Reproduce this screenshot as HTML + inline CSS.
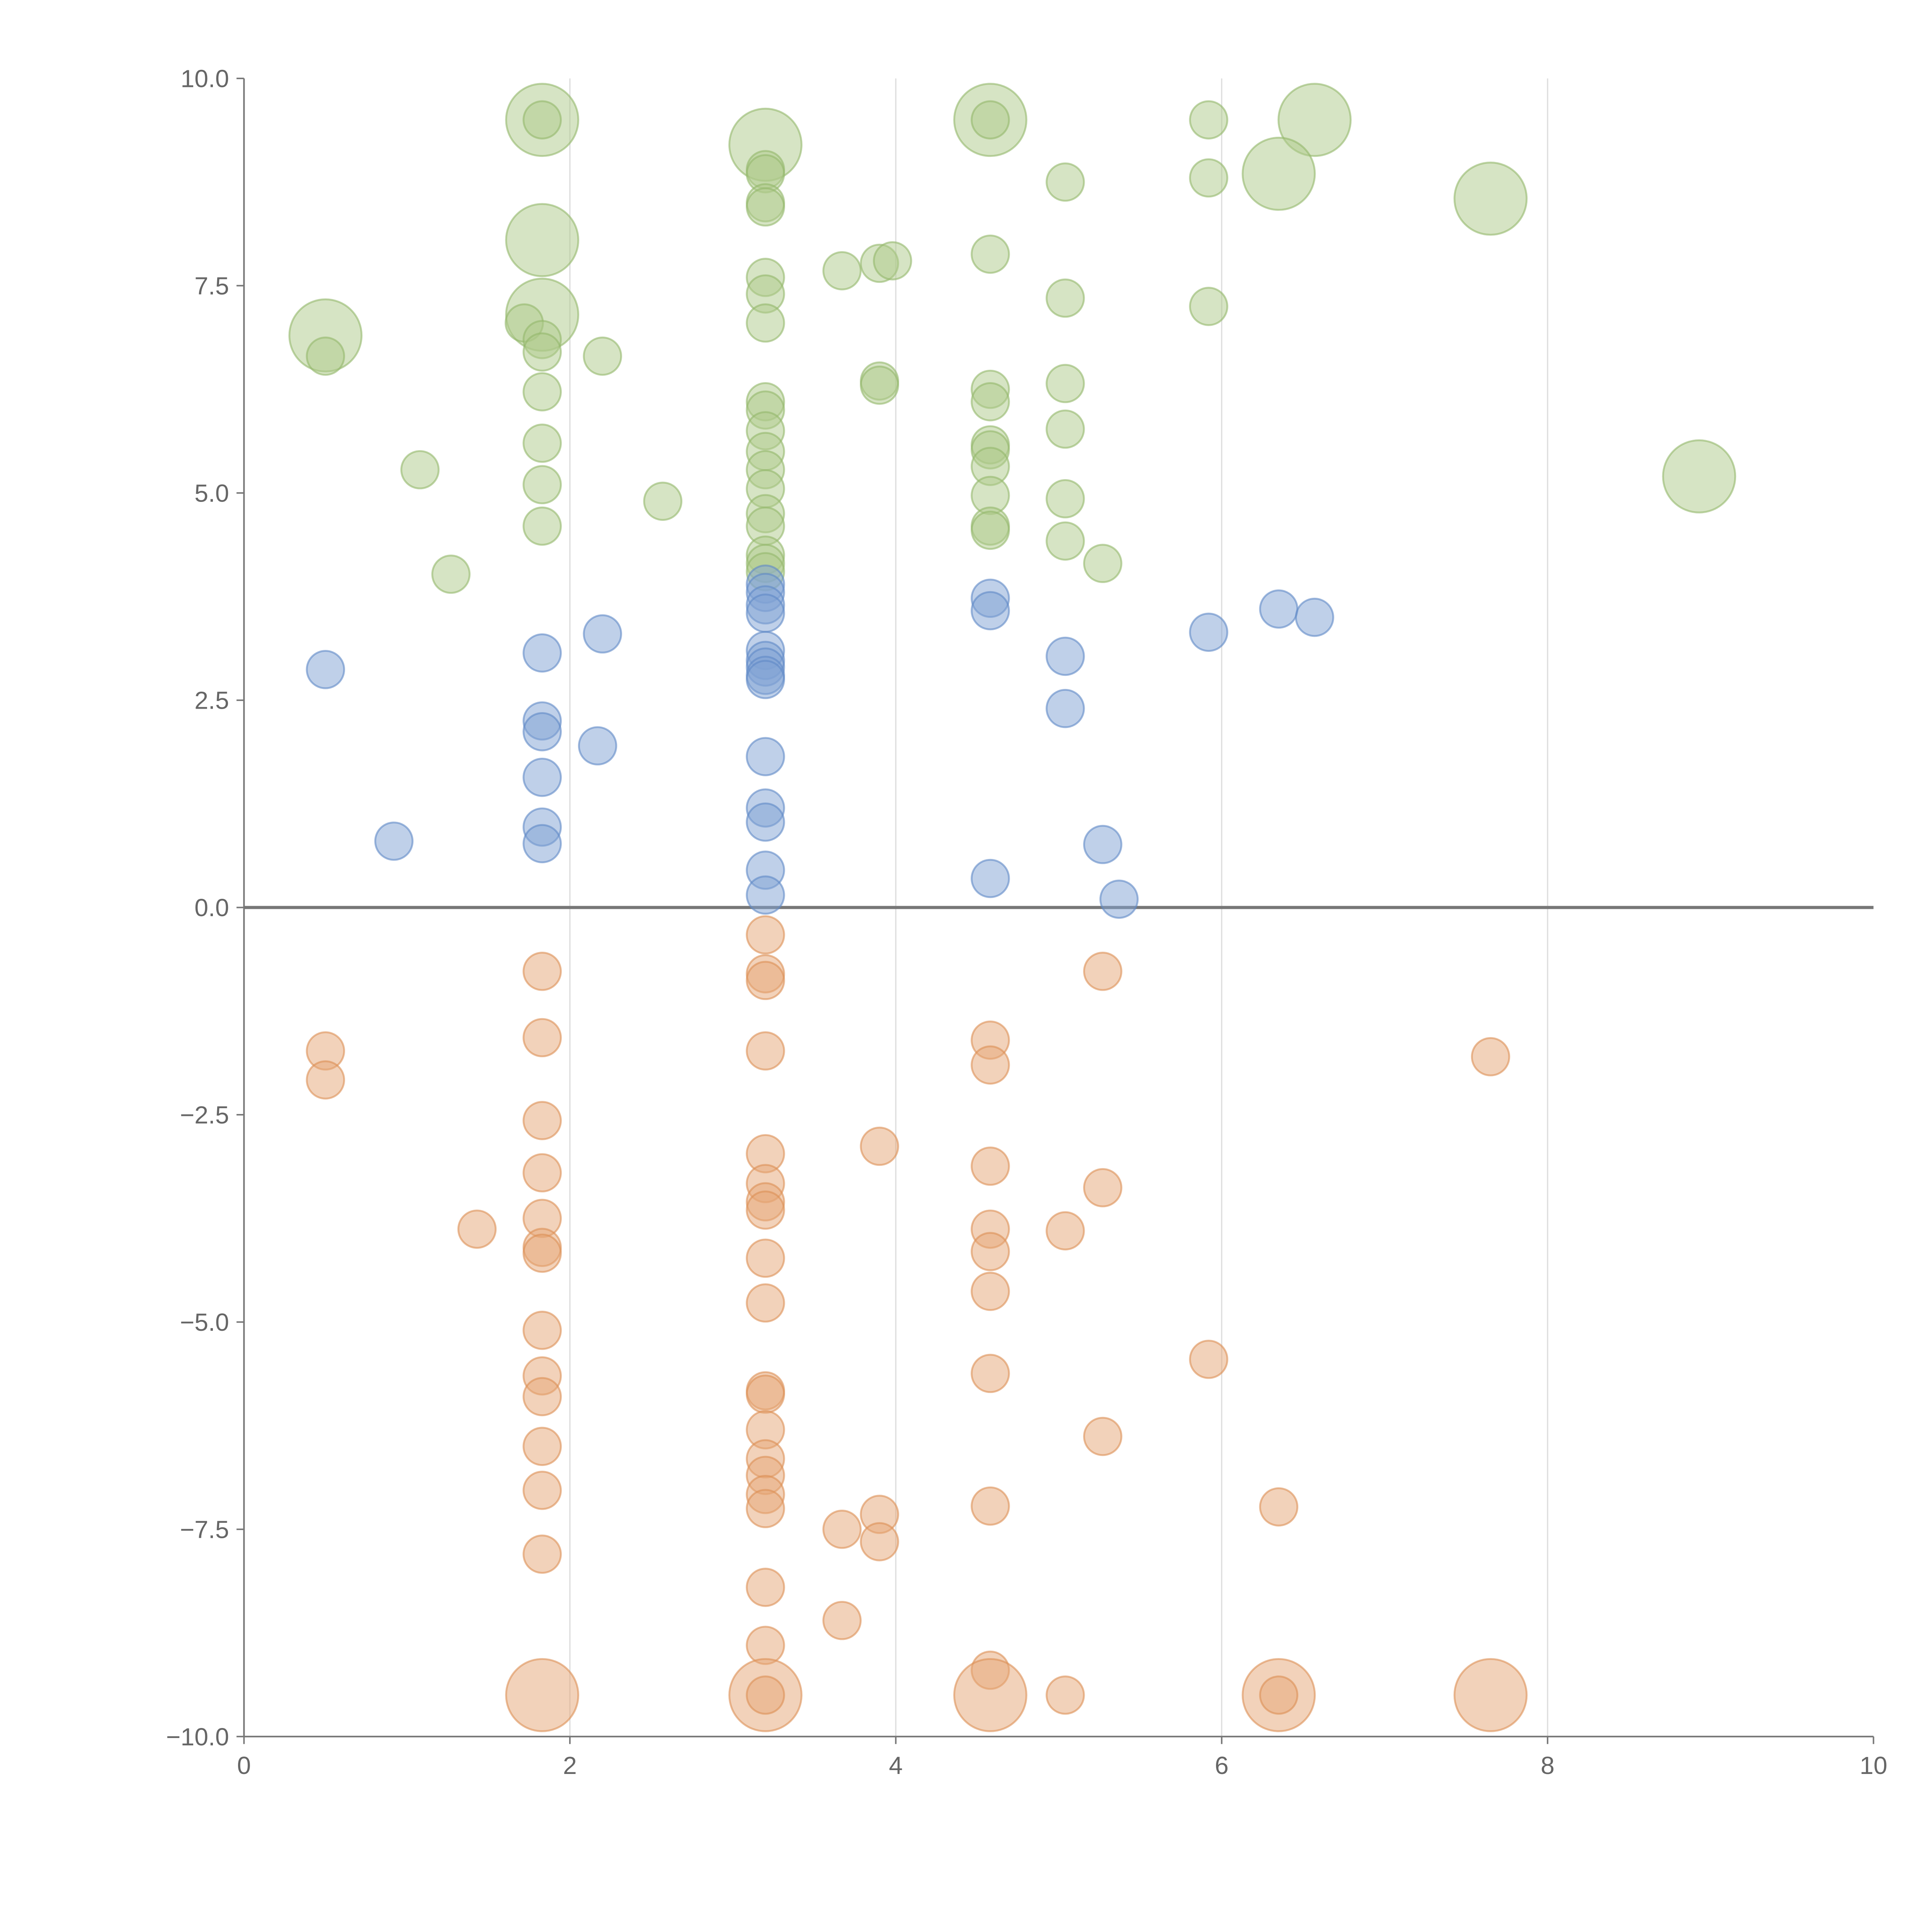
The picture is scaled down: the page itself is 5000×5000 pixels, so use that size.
<!DOCTYPE html>
<html><head><meta charset="utf-8"><style>html,body{margin:0;padding:0;background:#fff}svg{display:block}</style></head>
<body>
<svg id="chart" xmlns="http://www.w3.org/2000/svg" width="5000" height="5000" viewBox="0 0 1552 1552" font-family="'Liberation Sans', sans-serif">
<g id="grid"></g>
<g id="axes"></g>
<g id="points"></g>
</svg>
<script>
const xTicks=[0,2,4,6,8,10];
const yTicks=[10,7.5,5,2.5,0,-2.5,-5,-7.5,-10];
const yTickLabels=["10.0","7.5","5.0","2.5","0.0","\u22122.5","\u22125.0","\u22127.5","\u221210.0"];
const greenX=[1.83,1.83,3.2,4.58,4.58,5.92,6.57,6.35,5.92,5.04,7.65,1.83,3.2,3.2,3.2,3.2,4.58,3.67,3.9,3.98,3.2,3.2,5.04,5.92,1.83,0.5,1.72,1.83,1.83,0.5,2.2,3.2,3.9,3.9,5.04,4.58,4.58,1.83,3.2,3.2,3.2,5.04,1.83,4.58,4.58,3.2,4.58,3.2,1.08,8.93,1.83,3.2,4.58,5.04,2.57,3.2,1.83,3.2,4.58,4.58,5.04,3.2,3.2,5.27,3.2,1.27];
const greenY=[9.5,9.5,9.2,9.5,9.5,9.5,9.5,8.85,8.8,8.75,8.55,8.05,8.9,8.85,8.5,8.45,7.88,7.68,7.77,7.8,7.6,7.4,7.35,7.25,7.15,6.9,7.05,6.85,6.7,6.65,6.65,7.05,6.35,6.3,6.32,6.25,6.1,6.22,6.1,6.0,5.75,5.77,5.6,5.58,5.52,5.5,5.32,5.28,5.28,5.2,5.1,5.05,4.97,4.93,4.9,4.75,4.6,4.6,4.6,4.55,4.42,4.25,4.15,4.15,4.05,4.02];
const greenBig=[1,0,1,1,0,0,1,1,0,0,1,1,0,0,0,0,0,0,0,0,0,0,0,0,1,1,0,0,0,0,0,0,0,0,0,0,0,0,0,0,0,0,0,0,0,0,0,0,0,1,0,0,0,0,0,0,0,0,0,0,0,0,0,0,0,0];
const blueX=[3.2,3.2,4.58,3.2,6.35,4.58,3.2,6.57,5.92,2.2,3.2,1.83,5.04,3.2,3.2,0.5,3.2,3.2,5.04,1.83,1.83,2.17,3.2,1.83,3.2,3.2,1.83,0.92,1.83,5.27,3.2,4.58,3.2,5.37];
const blueY=[3.9,3.8,3.73,3.65,3.6,3.58,3.55,3.5,3.32,3.3,3.1,3.07,3.03,2.98,2.9,2.87,2.8,2.75,2.4,2.25,2.12,1.95,1.82,1.57,1.2,1.03,0.97,0.8,0.77,0.76,0.45,0.35,0.15,0.1];
const orangeX=[3.2,1.83,5.27,3.2,3.2,1.83,4.58,0.5,3.2,7.65,4.58,0.5,1.83,3.9,3.2,4.58,1.83,3.2,5.27,3.2,3.2,1.83,1.43,4.58,5.04,1.83,1.83,4.58,3.2,4.58,3.2,1.83,5.92,1.83,4.58,3.2,3.2,1.83,3.2,5.27,1.83,3.2,3.2,1.83,3.2,3.2,4.58,6.35,3.9,3.67,3.9,1.83,3.2,3.67,3.2,4.58,1.83,3.2,3.2,4.58,5.04,6.35,6.35,7.65];
const orangeY=[-0.33,-0.77,-0.77,-0.8,-0.88,-1.57,-1.6,-1.73,-1.73,-1.8,-1.9,-2.08,-2.57,-2.88,-2.97,-3.12,-3.2,-3.33,-3.38,-3.55,-3.65,-3.75,-3.88,-3.88,-3.9,-4.1,-4.17,-4.15,-4.23,-4.63,-4.77,-5.1,-5.45,-5.65,-5.62,-5.83,-5.87,-5.9,-6.3,-6.38,-6.5,-6.65,-6.85,-7.03,-7.08,-7.25,-7.22,-7.23,-7.32,-7.5,-7.65,-7.8,-8.2,-8.6,-8.9,-9.2,-9.5,-9.5,-9.5,-9.5,-9.5,-9.5,-9.5,-9.5];
const orangeBig=[0,0,0,0,0,0,0,0,0,0,0,0,0,0,0,0,0,0,0,0,0,0,0,0,0,0,0,0,0,0,0,0,0,0,0,0,0,0,0,0,0,0,0,0,0,0,0,0,0,0,0,0,0,0,0,0,1,1,0,1,0,1,0,1];

const NS="http://www.w3.org/2000/svg";
const X0=196,X1=1505,Y0=63,Y1=1395;
const sx=v=>X0+(v-0)/10*(X1-X0);
const sy=v=>Y0+(10-v)/20*(Y1-Y0);
function mk(tag,attrs,parent){const e=document.createElementNS(NS,tag);for(const k in attrs)e.setAttribute(k,attrs[k]);parent.appendChild(e);return e;}
const grid=document.getElementById('grid'),axes=document.getElementById('axes'),pts=document.getElementById('points');
xTicks.forEach(t=>{
  if(t>0&&t<10){const l=mk('line',{x1:sx(t),x2:sx(t),y1:Y0,y2:Y1,stroke:'#dddddd','stroke-width':1},grid);
  
  }
  const tk=mk('line',{x1:sx(t),x2:sx(t),y1:Y1,y2:Y1+6,stroke:'#777','stroke-width':1.2},axes);
  
  
  const tx=mk('text',{x:sx(t),y:Y1+30,'text-anchor':'middle','font-size':20,fill:'#666'},axes);
  tx.textContent=String(t);
  
  
});
yTicks.forEach((t,i)=>{
  const tk=mk('line',{x1:X0-6,x2:X0,y1:sy(t),y2:sy(t),stroke:'#777','stroke-width':1.2},axes);
  
  
  const tx=mk('text',{x:X0-12,y:sy(t)+7,'text-anchor':'end','font-size':20,fill:'#666'},axes);
  tx.textContent=yTickLabels[i];
  
  
});
const ya=mk('line',{x1:X0,x2:X0,y1:Y0,y2:Y1,stroke:'#777','stroke-width':1.3},axes);


const xa=mk('line',{x1:X0,x2:X1,y1:Y1,y2:Y1,stroke:'#777','stroke-width':1.3},axes);


const zl=mk('line',{x1:X0,x2:X1,y1:sy(0),y2:sy(0),stroke:'#777','stroke-width':2.5},axes);


function series(xs,ys,big,fill,stroke,name){
  xs.forEach((x,i)=>{
    const r=big&&big[i]?29:15;
    const c=mk('circle',{cx:sx(x),cy:sy(ys[i]),r:r,fill:fill,'fill-opacity':0.5,stroke:stroke,'stroke-opacity':0.6,'stroke-width':1.5},pts);
    
    
  });
}
series(greenX,greenY,greenBig,'#adc98a','#93b86a','green-bubble');
series(blueX,blueY,null,'#7fa1d3','#5f88c6','blue-bubble');
series(orangeX,orangeY,orangeBig,'#e5a676','#dc8f55','orange-bubble');
</script>
</body></html>
